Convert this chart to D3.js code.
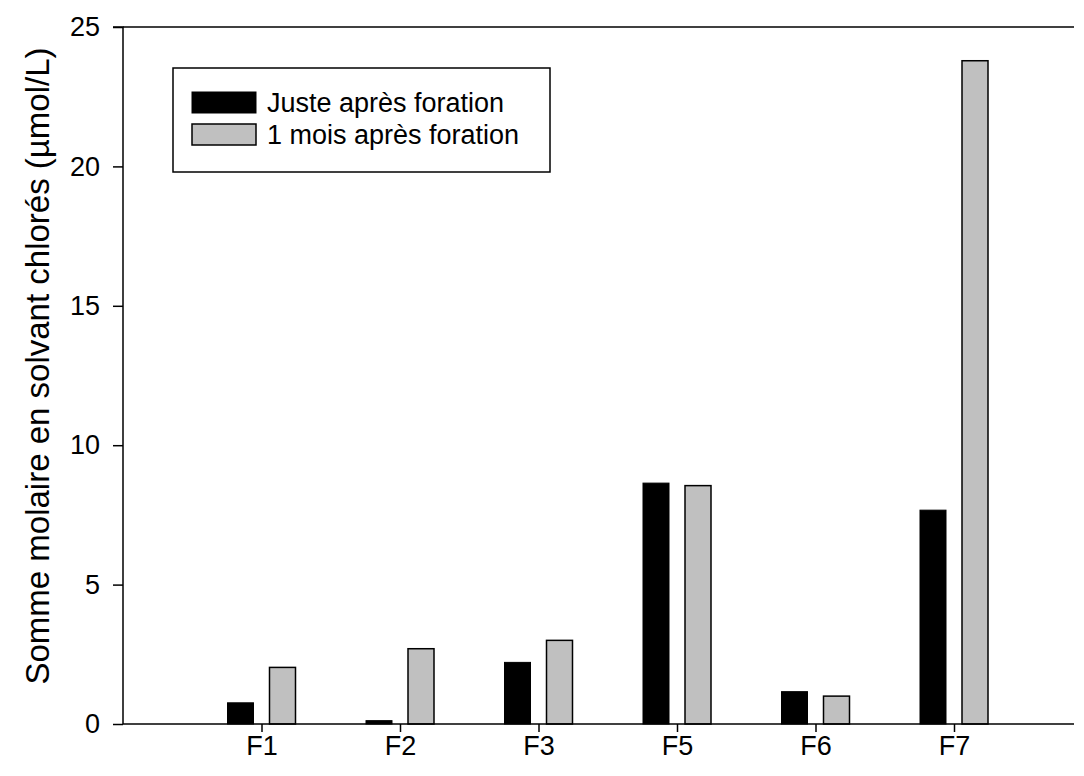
<!DOCTYPE html>
<html><head><meta charset="utf-8">
<script src="https://cdn.jsdelivr.net/npm/d3@7"></script>
<style>body{margin:0;background:#fff}svg{display:block}text{font-family:"Liberation Sans",Arial,sans-serif;fill:#000}</style>
</head><body>
<svg id="c" width="1084" height="776"></svg>
<script>
const categories = ["F1","F2","F3","F5","F6","F7"];
const justeApres = [0.76, 0.12, 2.21, 8.64, 1.16, 7.67];
const unMoisApres = [2.03, 2.70, 3.00, 8.55, 1.00, 23.79];
const seriesNames = ["Juste après foration","1 mois après foration"];
const seriesColors = ["#000000","#c0c0c0"];
const yTicks = [0,5,10,15,20,25];

(function(){
const svg = d3.select("#c");
const pLeft = 123, pRight = 1074, pTop = 27, pBottom = 724;
const step = 138.5;
const x = d3.scaleLinear().domain([0, 7]).range([pLeft, pLeft + 7*step]);
const y = d3.scaleLinear().domain([0, 25]).range([pBottom, pTop]);
const barW = 26, off = 21;
const FF = "Liberation Sans, Arial, sans-serif";

// bars
const series = [justeApres, unMoisApres];
series.forEach((vals, s) => {
  svg.append("g").selectAll("rect").data(vals).join("rect")
    .attr("x", (d,i) => x(i+1) + (s===0 ? -off : off) - barW/2)
    .attr("y", d => y(d))
    .attr("width", barW)
    .attr("height", d => y(0) - y(d))
    .attr("fill", seriesColors[s])
    .attr("stroke", "#000")
    .attr("stroke-width", s===0 ? 1 : 1.5);
});

// y axis
const ya = svg.append("g").attr("transform", `translate(${pLeft},0)`)
  .call(d3.axisLeft(y).tickValues(yTicks).tickSize(10).tickPadding(13).tickFormat(d3.format("d")));
ya.select(".domain").attr("stroke-width", 1.5).attr("d", `M-10,${pTop}H0V${pBottom}`);
ya.selectAll(".tick line").attr("stroke-width", 1.5);
ya.selectAll(".tick text").attr("font-size", null).style("font-size", "27px").style("font-family", FF);

// x axis
const xa = svg.append("g").attr("transform", `translate(0,${pBottom})`)
  .call(d3.axisBottom(x).tickValues(d3.range(1, 7)).tickSize(8).tickPadding(4)
    .tickFormat((d) => categories[d-1]));
xa.select(".domain").attr("stroke-width", 1.5).attr("d", `M${pLeft},0H${pRight}`);
xa.selectAll(".tick line").attr("stroke-width", 1.5);
xa.selectAll(".tick text").style("font-size", "27px").style("font-family", FF);

// top line
svg.append("line").attr("x1", pLeft).attr("x2", pRight).attr("y1", pTop).attr("y2", pTop)
  .attr("stroke", "#000").attr("stroke-width", 1.5);

// y title
svg.append("text").attr("transform", `translate(49,366) rotate(-90)`)
  .attr("text-anchor", "middle").style("font-size", "33px")
  .text("Somme molaire en solvant chlorés (µmol/L)");

// legend
const lg = svg.append("g");
lg.append("rect").attr("x", 173).attr("y", 68).attr("width", 377).attr("height", 104)
  .attr("fill", "#fff").attr("stroke", "#000").attr("stroke-width", 1.5);
seriesNames.forEach((n, i) => {
  const yy = 92 + i*32;
  lg.append("rect").attr("x", 192).attr("y", yy).attr("width", 64).attr("height", 21)
    .attr("fill", seriesColors[i]).attr("stroke", "#000").attr("stroke-width", i===0 ? 1 : 1.5);
  lg.append("text").attr("x", 267).attr("y", yy + 20).style("font-size", "27px").text(n);
});
})();
</script>
</body></html>
